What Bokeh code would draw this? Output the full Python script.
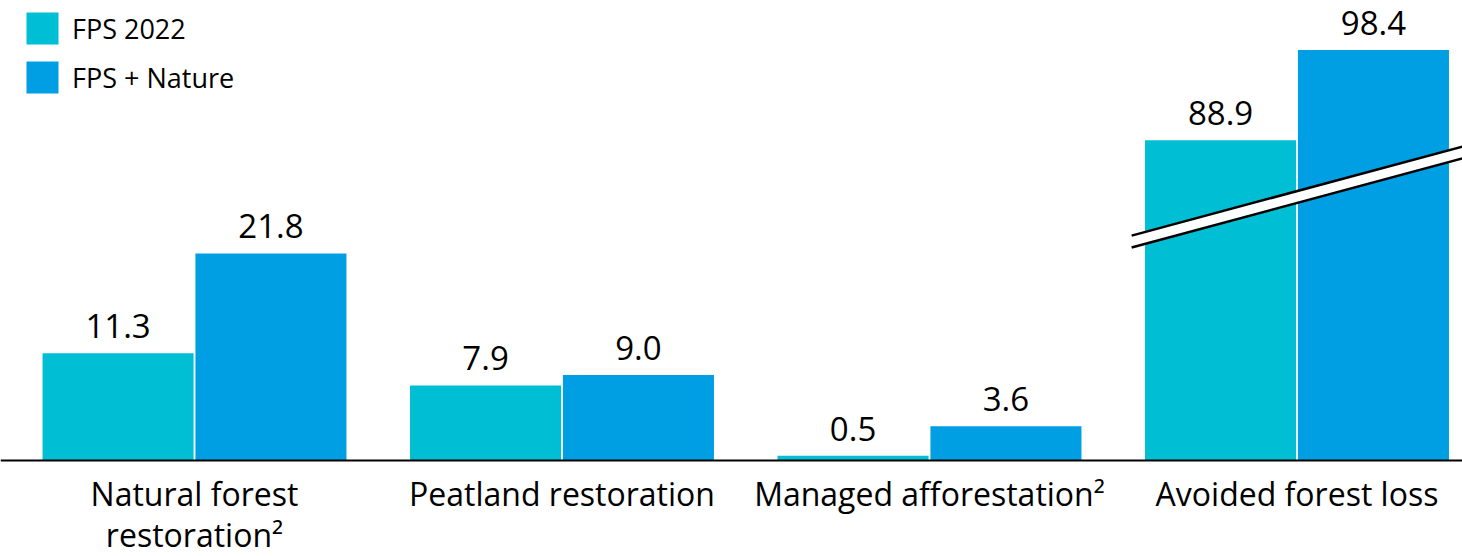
from bokeh.plotting import figure
from bokeh.models import ColumnDataSource, Range1d, Legend, LegendItem, Span
from bokeh.core.properties import value
from bokeh.embed import file_html
from bokeh.resources import INLINE

# ---- data ----
categories = ["Natural forest\nrestoration\u00b2", "Peatland restoration",
              "Managed afforestation\u00b2", "Avoided forest loss"]
series_names = ["FPS 2022", "FPS + Nature"]
fps_2022 = [11.3, 7.9, 0.5, 88.9]
fps_nature = [21.8, 9.0, 3.6, 98.4]
broken_group = 3      # index of the group drawn on a broken axis
break_cut = 55.2      # amount of axis removed by the break

colors = ["#00BED3", "#009FE3"]
FONT = "Open Sans"

# ---- layout ----
W, H = 1462, 556
PX_PER_UNIT = 9.5
GROUP_PX = 367.5
BASE_PX = 460          # baseline distance from figure top
X0 = -194 / GROUP_PX

x_range = Range1d(X0, X0 + W / GROUP_PX)
y_range = Range1d(-(H - BASE_PX) / PX_PER_UNIT, BASE_PX / PX_PER_UNIT)

p = figure(width=W, height=H, x_range=x_range, y_range=y_range,
           output_backend="svg", toolbar_location=None,
           x_axis_location=None, y_axis_location=None,
           min_border=0, outline_line_color=None)
p.grid.visible = False
p.background_fill_color = "white"
p.border_fill_color = "white"


def displayed(vals):
    return [v - break_cut if i == broken_group else v for i, v in enumerate(vals)]


offsets = [-0.208, 0.208]
bar_w = 0.411
renderers = []
for name, vals, col, off in zip(series_names, [fps_2022, fps_nature], colors, offsets):
    src = ColumnDataSource(dict(
        x=[i + off for i in range(len(categories))],
        top=displayed(vals),
        label=[f"{v:.1f}" for v in vals],
    ))
    r = p.vbar(x="x", top="top", bottom=0, width=bar_w, source=src,
               fill_color=col, line_color=None)
    renderers.append((name, r))
    p.text(x="x", y="top", text="label", source=src,
           text_align="center", text_baseline="alphabetic", y_offset=-27,
           text_font=value(FONT), text_font_size="33px", text_color="black")

# axis break on the broken group
bx = broken_group
half = 0.45
yl, yr, th = 23.05, 32.42, 1.25
p.patch(x=[bx - half, bx + half, bx + half, bx - half],
        y=[yl + th / 2, yr + th / 2, yr - th / 2, yl - th / 2],
        fill_color="white", line_color=None)
p.line(x=[bx - half, bx + half], y=[yl + th / 2, yr + th / 2], line_color="black", line_width=2.5)
p.line(x=[bx - half, bx + half], y=[yl - th / 2, yr - th / 2], line_color="black", line_width=2.5)

# baseline
p.add_layout(Span(location=0, dimension="width", line_color="black", line_width=2))

# category labels
p.text(x=list(range(len(categories))), y=[0] * len(categories), text=categories,
       text_align="center", text_baseline="top", y_offset=11, text_line_height=0.97,
       text_font=value(FONT), text_font_size="32px", text_color="black")

legend = Legend(items=[LegendItem(label=n, renderers=[r]) for n, r in renderers],
                location=(22, H - 8 - 89), orientation="vertical",
                glyph_width=40, glyph_height=40, label_height=40,
                label_standoff=10, spacing=9, padding=0, margin=0,
                border_line_color=None, background_fill_alpha=0,
                label_text_font=FONT, label_text_font_size="27px",
                label_text_color="black")
p.add_layout(legend)

open("out.html", "w").write(file_html(p, INLINE))
